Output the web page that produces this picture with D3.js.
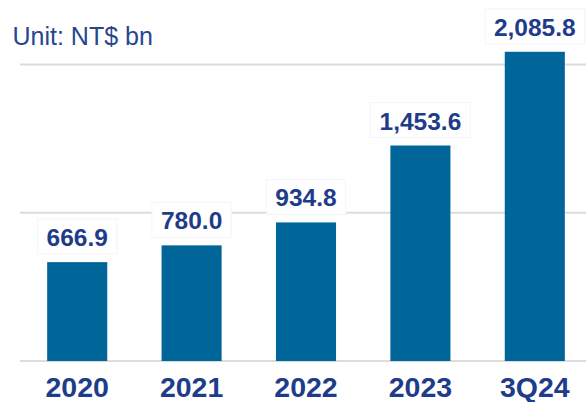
<!DOCTYPE html>
<html>
<head>
<meta charset="utf-8">
<script src="https://cdn.jsdelivr.net/npm/d3@7"></script>
<style>
  body { margin: 0; background: #fff; }
  text { font-family: "Liberation Sans", Arial, sans-serif; }
</style>
</head>
<body>
<script>
// chart data
const categories = ["2020", "2021", "2022", "2023", "3Q24"];
const values = [666.9, 780.0, 934.8, 1453.6, 2085.8];
const gridTicks = [0, 1000, 2000];
const unitLabel = "Unit: NT$ bn";

const width = 586, height = 402;
const navy = "#1f3c8a", barColor = "#006699";

const svg = d3.select("body").append("svg")
    .attr("width", width).attr("height", height);

const x = d3.scaleBand()
    .domain(categories)
    .range([20, 592])
    .paddingInner(0.475)
    .paddingOuter(0.2375);

const y = d3.scaleLinear()
    .domain([0, 2000])
    .range([361, 64.5]);

// gridlines
svg.append("g").selectAll("line")
    .data(gridTicks)
    .enter().append("line")
      .attr("x1", 20).attr("x2", width)
      .attr("y1", d => y(d)).attr("y2", d => y(d))
      .attr("stroke", "#dcdcdc")
      .attr("stroke-width", 2);

// bars
svg.append("g").selectAll("rect")
    .data(values)
    .enter().append("rect")
      .attr("x", (d, i) => x(categories[i]))
      .attr("width", x.bandwidth())
      .attr("y", d => y(d))
      .attr("height", d => y(0) - y(d))
      .attr("fill", barColor);

const fmt = d3.format(",.1f");

// value labels with white boxes
const lab = svg.append("g").selectAll("g")
    .data(values)
    .enter().append("g")
      .attr("transform", (d, i) => "translate(" + (x(categories[i]) + x.bandwidth() / 2) + "," + (y(d) - 16) + ")");

lab.append("text")
    .attr("text-anchor", "middle")
    .attr("font-size", 24.5)
    .attr("font-weight", "bold")
    .attr("fill", navy)
    .text(d => fmt(d));

lab.each(function() {
  const g = d3.select(this);
  const bb = g.select("text").node().getBBox();
  g.insert("rect", "text")
      .attr("x", bb.x - 9).attr("y", -27)
      .attr("width", bb.width + 18).attr("height", 35)
      .attr("fill", "#fff")
      .attr("stroke", "#f5f5f5");
});

// category axis labels
svg.append("g").selectAll("text")
    .data(categories)
    .enter().append("text")
      .attr("x", d => x(d) + x.bandwidth() / 2)
      .attr("y", 397)
      .attr("text-anchor", "middle")
      .attr("font-size", 28.5)
      .attr("font-weight", "bold")
      .attr("fill", navy)
      .text(d => d);

// unit label
svg.append("text")
    .attr("x", 12.5).attr("y", 45)
    .attr("font-size", 25)
    .attr("fill", "#28458f")
    .text(unitLabel);
</script>
</body>
</html>
